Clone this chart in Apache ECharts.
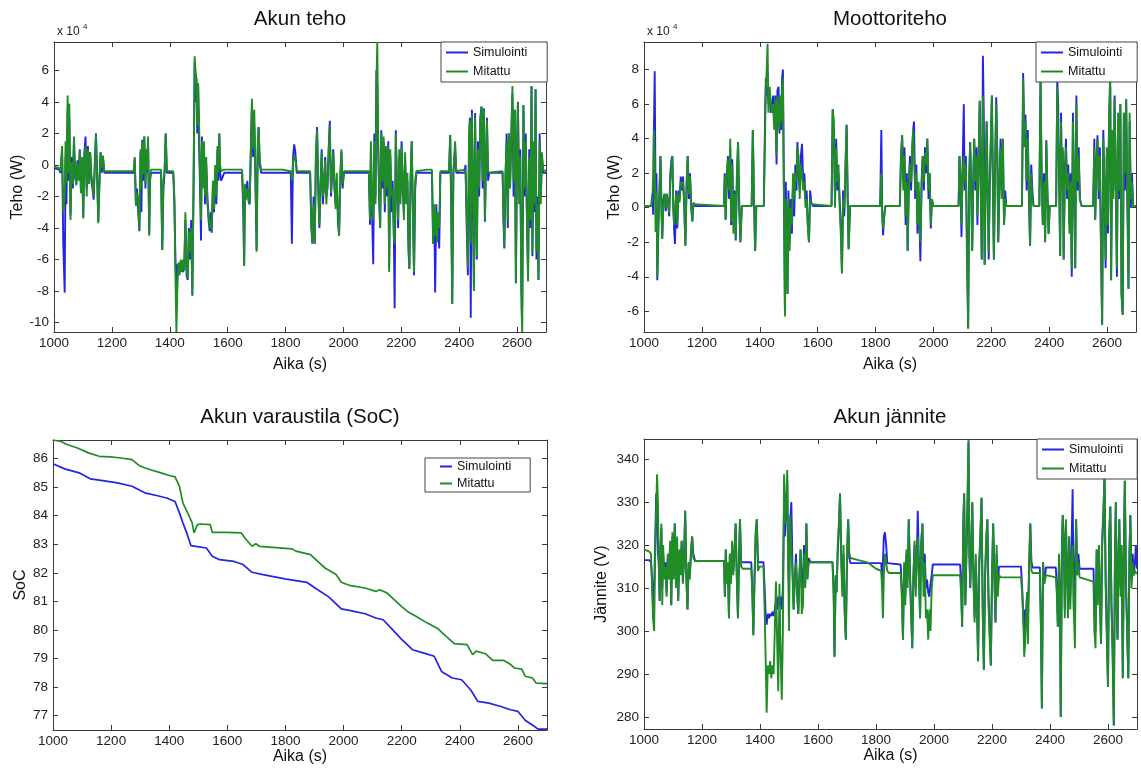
<!DOCTYPE html>
<html>
<head>
<meta charset="utf-8">
<title>Akku ja moottori</title>
<script src="https://cdn.jsdelivr.net/npm/echarts@6/dist/echarts.min.js"></script>
<style>
  html, body { margin: 0; padding: 0; background: #fff; }
  #chart { width: 1141px; height: 770px; }
</style>
</head>
<body>
<div id="chart"></div>
<script>
// akselit
const xTicks = [1000, 1200, 1400, 1600, 1800, 2000, 2200, 2400, 2600];
const akkuTicks = [-10, -8, -6, -4, -2, 0, 2, 4, 6];
const moottoriTicks = [-6, -4, -2, 0, 2, 4, 6, 8];
const socTicks = [77, 78, 79, 80, 81, 82, 83, 84, 85, 86];
const janniteTicks = [280, 290, 300, 310, 320, 330, 340];

// Akun teho (x 10^4 W)
const akkuAika = [
  1000,1018,1022,1028,1032,1037,1040,1043,1047,1050,1053,1057,1061,1065,1069,1073,1077,1081,1085,1089,
  1093,1097,1101,1105,1109,1113,1117,1121,1125,1129,1133,1137,1141,1145,1149,1153,1157,1161,1165,1169,
  1174,1275,1279,1283,1287,1291,1295,1299,1302,1305,1308,1312,1316,1319,1322,1325,1329,1332,1335,1370,
  1374,1378,1382,1386,1390,1412,1416,1420,1423,1426,1430,1434,1438,1442,1446,1450,1454,1458,1462,1466,
  1470,1474,1478,1482,1486,1489,1492,1495,1498,1501,1504,1508,1511,1514,1518,1522,1526,1530,1534,1538,
  1542,1545,1549,1553,1557,1561,1565,1568,1571,1574,1577,1582,1588,1650,1654,1657,1660,1664,1668,1672,
  1676,1680,1684,1688,1692,1696,1700,1704,1707,1711,1716,1790,1818,1822,1826,1830,1834,1839,1885,1889,
  1893,1897,1901,1905,1909,1913,1917,1921,1925,1929,1933,1937,1941,1945,1949,1953,1957,1961,1965,1969,
  1973,1977,1981,1985,1989,1993,1997,2002,2088,2092,2095,2099,2103,2107,2111,2114,2117,2120,2124,2127,
  2131,2135,2139,2143,2147,2151,2155,2158,2162,2166,2170,2174,2177,2181,2185,2189,2193,2197,2201,2205,
  2209,2213,2217,2221,2225,2228,2232,2236,2240,2244,2248,2252,2290,2306,2310,2314,2317,2321,2324,2328,
  2331,2335,2365,2369,2373,2376,2380,2386,2390,2418,2422,2426,2430,2434,2437,2440,2444,2448,2451,2455,
  2458,2461,2465,2469,2473,2477,2481,2485,2489,2493,2496,2500,2504,2550,2553,2556,2560,2564,2568,2572,
  2576,2580,2584,2588,2592,2596,2600,2603,2607,2611,2615,2618,2622,2626,2630,2634,2638,2642,2646,2650,
  2653,2657,2660,2664,2667,2671,2674,2678,2682,2686,2690,2700
];
const akkuSim = [
  -0.2,-0.3,-0.5,0.8,-5.0,-8.1,0.5,-2.5,3.5,-1.0,3.0,-3.2,0.5,-1.5,1.5,-0.8,-1.2,0.3,-0.8,1.0,
  -1.5,0.3,-3.3,0.8,1.8,-1.5,1.2,-0.8,0.8,-1.0,-1.5,-2.2,0.2,2.0,-0.5,-3.6,-1.0,0.8,-0.5,0.5,
  -0.5,-0.5,0.4,-2.5,-1.5,-3.0,-4.2,0.8,-3.0,1.6,-1.0,1.8,-1.5,0.8,-0.5,1.6,-4.4,-1.0,-0.5,-0.5,
  -5.4,-1.5,-0.5,2.0,-0.5,-0.5,-2.5,-6.5,-8.0,-6.3,-6.8,-6.2,-6.7,-6.3,-6.8,-6.5,-3.5,-7.0,-7.3,-4.0,
  -6.0,-3.5,-8.3,-2.0,6.5,4.0,5.5,2.0,5.0,1.5,-1.0,-4.8,1.8,-1.0,1.0,-2.5,0.0,-2.0,-3.5,-4.2,
  -3.0,-4.3,-1.5,-3.0,-0.5,-2.5,1.0,-1.0,2.0,-0.5,-1.0,-0.8,-0.5,-0.5,-3.0,-6.4,-1.5,-2.0,-1.0,-2.3,
  -2.5,1.0,4.0,0.5,2.5,-1.0,-5.4,1.0,2.4,0.0,-0.5,-0.5,-0.5,-5.0,0.5,1.3,0.8,-0.5,-0.5,-4.0,
  -5.0,-2.0,-5.0,0.5,2.4,-1.5,-4.0,-1.0,1.0,-2.5,-1.2,0.5,-2.0,-1.5,1.0,2.8,-2.0,-0.5,1.0,-1.5,
  -2.5,-1.0,-3.5,-4.5,-1.0,0.8,-1.5,-0.5,-0.5,-3.8,1.0,-3.0,-6.3,2.0,-2.0,6.0,5.0,1.0,-2.5,-4.0,
  2.2,-1.5,1.5,-3.0,0.5,-2.0,1.5,-6.5,0.5,-3.0,-1.0,-4.0,-9.1,2.2,-1.0,-4.0,0.5,-2.0,1.5,-1.5,
  -3.0,0.5,-2.0,-1.0,-5.5,-6.6,-1.0,1.5,-3.0,-7.0,-1.5,-0.5,-0.5,-0.5,-5.0,-3.0,-8.1,-2.5,-4.9,-3.5,
  -5.3,-0.5,-0.5,1.9,-3.0,-8.8,-0.5,1.0,-0.5,-0.5,0.0,-4.0,-7.0,1.0,3.0,-9.7,3.5,-2.5,-8.0,3.3,
  -2.0,-6.0,1.5,-2.0,3.0,3.7,-1.5,3.6,-3.6,0.5,3.0,-1.0,-0.5,-0.5,-3.5,-5.3,-1.0,2.0,-4.0,2.0,
  -1.0,1.5,4.5,-2.0,3.5,-7.5,1.0,4.0,-2.0,1.0,-8.0,-9.0,3.8,-2.0,2.0,-3.0,-7.0,1.0,-4.0,5.0,
  -5.8,1.0,-3.0,4.8,-6.0,-2.0,-7.3,2.0,-2.0,0.5,-0.5,-0.5
];
const akkuMit = [
  -0.1,-0.2,-0.4,1.2,-3.0,-2.0,1.5,-1.2,4.4,-0.5,3.9,-3.5,0.2,-1.2,1.8,-0.5,-1.3,0.1,-1.0,0.9,
  -1.8,0.5,-3.4,0.6,1.2,-2.0,1.0,-1.2,0.8,-0.6,-1.2,-2.0,-0.2,1.9,-0.8,-3.7,-1.2,0.8,-0.2,0.6,
  -0.4,-0.4,0.5,-2.6,-1.8,-2.2,-4.1,1.0,-1.5,1.5,-0.6,1.8,-1.2,1.0,-0.3,1.8,-4.5,-0.8,-0.3,-0.3,
  -5.4,-1.0,-0.4,2.0,-0.4,-0.4,-2.0,-7.5,-10.6,-8.0,-6.2,-7.0,-6.0,-6.8,-6.0,-6.7,-3.0,-6.5,-7.2,-4.2,
  -5.5,-4.0,-8.2,-1.5,6.9,6.0,5.5,2.5,5.2,3.0,0.0,-3.5,1.5,-1.5,1.5,-2.0,0.5,-2.5,-3.0,-4.0,
  -3.5,-4.2,-1.0,-2.8,0.0,-2.0,1.2,-0.5,2.0,0.0,-0.4,-0.3,-0.3,-0.3,-2.5,-6.4,-1.2,-2.2,-1.5,-2.0,
  -2.5,0.5,4.2,1.0,3.5,-0.5,-5.5,1.5,2.4,0.2,-0.3,-0.3,-0.4,-1.0,0.2,0.6,0.3,-0.4,-0.4,-3.5,
  -5.0,-2.5,-5.0,0.8,2.2,-1.2,-3.8,-1.5,0.8,-2.0,-1.5,0.3,-2.5,-1.0,0.8,2.5,-1.8,-0.8,0.8,-1.0,
  -2.8,-0.5,-3.0,-4.5,-0.8,1.0,-1.2,-0.4,-0.4,-3.5,1.5,-2.5,-3.5,1.5,-2.5,5.0,7.8,2.0,-2.0,-4.0,
  2.0,-1.0,1.8,-2.5,1.2,-1.5,1.2,-6.8,1.0,-2.0,-1.5,-4.5,-5.0,2.0,-1.5,-3.5,1.0,-2.5,1.2,-1.0,
  -3.5,0.8,-2.5,-0.5,-5.0,-6.6,-0.8,1.5,-2.5,-6.8,-1.0,-0.4,-0.3,-0.3,-5.0,-2.5,-4.5,-3.0,-4.9,-3.0,
  -4.0,-0.4,-0.4,1.9,-4.0,-8.8,-0.4,1.5,-0.4,-0.3,-0.5,-3.0,-6.5,2.0,2.8,-5.0,3.2,-2.0,-8.0,3.0,
  -1.5,-5.8,1.0,-1.5,2.5,3.7,-1.0,3.5,-3.5,1.0,2.8,-0.5,-0.4,-0.4,-3.0,-5.2,-0.5,1.5,-3.5,2.0,
  -1.5,2.0,5.0,-1.0,3.5,-7.5,1.5,4.0,-2.5,0.5,-9.0,-10.6,3.8,-1.5,1.5,-3.5,-7.4,0.5,-3.5,5.0,
  -5.5,1.5,-2.5,4.8,-5.5,-2.5,-7.3,1.5,-2.5,0.8,-0.3,-0.4
];

// Moottoriteho (x 10^4 W)
const moottoriAika = [
  1000,1025,1029,1032,1034,1037,1040,1043,1046,1050,1054,1057,1060,1063,1067,1071,1075,1079,1083,1087,
  1091,1095,1098,1101,1104,1107,1111,1115,1119,1123,1127,1131,1135,1139,1143,1147,1151,1155,1159,1163,
  1167,1171,1176,1276,1279,1282,1286,1290,1294,1298,1301,1305,1309,1313,1317,1321,1325,1329,1333,1338,
  1372,1376,1380,1384,1388,1414,1418,1421,1424,1427,1430,1434,1438,1442,1446,1450,1454,1458,1461,1465,
  1468,1471,1474,1477,1480,1483,1487,1490,1493,1496,1499,1503,1507,1511,1515,1519,1523,1527,1530,1534,
  1538,1542,1546,1550,1554,1558,1562,1566,1570,1574,1578,1584,1648,1652,1656,1660,1664,1668,1672,1676,
  1680,1684,1688,1692,1696,1700,1704,1707,1712,1816,1820,1823,1826,1830,1834,1884,1888,1892,1896,1900,
  1904,1908,1911,1915,1919,1923,1927,1930,1933,1937,1941,1945,1949,1952,1955,1959,1963,1967,1971,1975,
  1979,1983,1987,1991,1995,1999,2087,2090,2094,2097,2101,2105,2108,2112,2116,2120,2124,2127,2131,2134,
  2138,2141,2145,2149,2152,2156,2160,2163,2167,2171,2174,2177,2181,2184,2188,2191,2195,2199,2202,2206,
  2209,2213,2217,2221,2224,2228,2232,2236,2240,2244,2248,2252,2306,2310,2314,2318,2322,2326,2330,2334,
  2338,2342,2346,2366,2370,2374,2378,2382,2386,2390,2394,2398,2402,2424,2428,2431,2434,2438,2441,2444,
  2447,2450,2454,2458,2462,2466,2470,2474,2478,2482,2486,2490,2494,2498,2502,2506,2512,2552,2556,2559,
  2563,2567,2571,2575,2579,2583,2587,2591,2595,2599,2603,2607,2611,2614,2618,2622,2626,2630,2634,2638,
  2642,2646,2650,2654,2658,2662,2666,2670,2674,2678,2682,2686,2690,2700
];
const moottoriSim = [
  0.1,0.1,0.8,-0.4,4.0,7.9,0.5,2.0,-4.2,-1.0,1.5,3.0,0.5,-1.8,0.5,0.8,-0.2,0.8,0.3,-0.5,
  2.0,2.8,3.0,0.5,-1.2,-2.1,1.0,-1.2,1.0,0.5,1.8,1.0,1.8,0.0,-2.2,1.0,3.0,0.5,2.0,0.0,
  -0.8,0.3,0.1,0.1,2.0,-0.7,1.5,3.0,0.5,3.5,-1.0,2.8,-1.0,1.0,-1.9,1.5,3.8,0.0,-2.0,0.1,
  0.1,4.5,0.5,-2.5,0.1,0.1,5.0,7.5,6.5,7.0,6.0,6.5,5.5,6.0,6.5,5.0,6.5,2.5,6.8,7.0,
  4.3,6.0,4.5,7.5,8.0,2.0,-6.0,1.5,-3.0,-5.0,1.0,-2.0,0.5,-1.5,1.5,-0.5,2.5,1.0,3.8,2.0,
  1.0,3.0,3.7,1.5,2.0,0.5,1.0,-1.0,-2.0,1.0,0.3,0.1,0.1,5.7,4.5,0.5,4.0,1.0,2.0,0.5,
  -1.0,-3.8,1.0,-0.5,2.0,4.8,0.5,-2.4,0.1,0.1,4.5,0.0,-1.6,-0.5,0.1,0.1,3.0,4.2,1.5,3.5,
  -1.0,2.0,-2.5,1.5,3.0,1.0,3.5,4.5,5.0,0.5,2.5,-1.5,1.0,-1.0,-3.1,1.5,3.0,1.0,3.5,2.0,
  4.0,0.5,2.0,-1.2,0.5,0.1,0.1,3.0,1.0,-1.7,2.5,6.0,1.0,3.0,-2.0,-7.0,2.0,3.8,1.0,-2.5,
  2.0,4.0,1.0,3.5,-1.0,2.5,6.2,2.0,-3.0,8.8,5.5,-3.3,2.0,5.0,0.5,-3.0,1.5,4.0,6.5,1.0,
  -3.0,2.0,6.4,3.0,-2.0,1.0,4.0,1.0,4.0,-1.0,1.0,0.1,0.1,7.8,4.0,5.4,1.0,4.5,0.5,-2.2,
  2.5,1.0,0.1,0.1,7.5,2.0,-1.0,2.0,-2.0,3.9,1.0,-1.5,0.1,0.1,7.5,6.0,2.0,-2.8,5.5,1.0,
  3.3,-3.0,2.0,4.0,0.5,2.5,-1.0,2.0,-4.0,5.5,1.0,-3.5,6.5,1.0,3.5,0.5,0.1,0.1,4.0,-0.7,
  2.5,4.2,0.5,3.5,-2.0,-6.8,4.5,1.0,-3.5,3.0,-1.5,5.0,7.0,-4.2,4.0,1.0,6.5,2.0,-4.0,5.0,
  0.5,6.0,-5.0,-6.2,5.5,1.0,6.3,0.5,-4.7,5.0,0.0,2.0,0.1,0.1
];
const moottoriMit = [
  0.1,0.1,0.5,2.0,4.5,3.0,-1.4,1.0,-4.0,-0.5,1.0,3.0,0.0,-1.8,0.2,0.8,0.0,0.8,0.2,-0.3,
  1.5,2.5,3.0,0.0,-1.0,-1.0,0.8,-1.0,0.8,0.3,1.5,1.3,1.5,0.3,-2.2,1.5,3.0,0.8,1.8,0.3,
  -0.8,0.2,0.1,0.1,1.8,-0.7,2.0,2.8,1.0,4.0,-0.8,2.5,-1.5,0.8,-1.8,2.0,3.8,0.5,-2.0,0.1,
  0.1,4.5,0.8,-2.5,0.1,0.1,4.0,7.0,8.0,9.5,5.5,7.0,6.0,5.5,6.0,4.5,6.3,3.0,6.5,6.5,
  4.5,6.5,5.0,7.0,7.5,1.5,-6.3,0.5,-3.5,-5.0,0.5,-2.5,0.0,-1.0,2.0,0.5,2.0,1.5,3.5,3.0,
  0.5,2.5,2.0,1.0,1.5,0.0,0.5,-1.0,-2.0,0.5,0.2,0.1,0.1,5.7,5.0,0.0,3.5,1.5,2.5,0.0,
  -1.5,-3.8,0.5,0.0,2.5,4.8,0.0,-2.4,0.1,0.1,2.0,-0.5,-1.2,-0.5,0.1,0.1,3.0,4.2,1.0,3.0,
  -0.5,1.5,-2.5,1.0,2.5,1.5,3.5,4.5,3.0,1.0,2.0,-1.0,1.5,-1.0,-2.0,1.0,3.0,1.5,3.2,2.5,
  4.0,1.0,2.0,-1.0,0.5,0.1,0.1,3.0,2.0,-1.0,2.0,3.0,1.5,2.5,-3.0,-7.0,1.5,3.8,0.5,-2.5,
  1.5,4.0,1.5,3.0,-0.5,3.0,6.2,1.5,-3.0,6.5,6.5,-3.3,2.5,5.0,0.0,-2.5,2.0,4.5,6.5,0.5,
  -3.0,2.5,6.0,2.5,-2.0,1.5,3.5,0.5,4.0,-1.0,0.5,0.1,0.1,7.5,3.5,5.0,1.5,4.0,1.0,-2.2,
  2.0,0.5,0.1,0.1,7.5,1.5,-1.0,1.5,-2.0,3.9,0.5,-1.5,0.1,0.1,7.0,4.0,2.5,-2.8,5.0,1.0,
  3.5,-3.0,1.5,3.5,1.0,2.0,-1.5,1.5,-3.5,5.0,1.5,-3.5,6.0,1.5,3.0,0.5,0.1,0.1,3.5,-0.7,
  2.0,4.0,1.0,3.0,-2.5,-6.8,4.0,1.5,-3.0,3.5,-1.0,5.5,7.8,-4.2,4.5,0.5,6.3,1.5,-3.5,5.5,
  1.0,6.0,-5.0,-6.2,5.5,2.0,6.3,1.0,-4.7,5.5,0.5,1.5,0.1,0.1
];

// Akun varaustila (SoC)
const socAikaSim = [
  1000,1040,1090,1128,1165,1222,1272,1316,1360,1391,1420,1435,1447,1460,1475,1503,1528,1548,1573,1623,
  1654,1685,1723,1798,1873,1911,1949,1992,2024,2074,2111,2136,2174,2199,2237,2274,2312,2337,2374,2406,
  2437,2462,2500,2538,2575,2600,2625,2656,2669,2700
];
const socSim = [
  85.82,85.64,85.5,85.29,85.24,85.15,85.03,84.8,84.7,84.62,84.5,84.1,83.75,83.4,82.95,82.91,82.87,82.58,82.46,82.4,
  82.29,82.02,81.94,81.79,81.67,81.41,81.16,80.74,80.68,80.57,80.42,80.36,79.95,79.68,79.31,79.2,79.08,78.55,78.32,78.26,
  77.91,77.5,77.44,77.33,77.21,77.15,76.84,76.63,76.53,76.53
];
const socAikaMit = [
  1000,1028,1046,1084,1122,1159,1197,1234,1272,1297,1335,1372,1403,1420,1435,1447,1466,1479,1485,1497,
  1507,1541,1548,1598,1648,1660,1685,1698,1710,1823,1836,1886,1911,1936,1974,1992,2024,2074,2111,2124,
  2149,2174,2199,2224,2249,2287,2325,2350,2381,2425,2444,2456,2488,2513,2550,2575,2588,2613,2625,2650,
  2663,2700
];
const socMit = [
  86.65,86.6,86.5,86.37,86.2,86.08,86.06,86.02,85.96,85.75,85.61,85.5,85.4,85.36,85.03,84.45,84.04,83.75,83.4,83.69,
  83.71,83.69,83.42,83.42,83.4,83.22,82.93,83.02,82.93,82.84,82.76,82.64,82.4,82.17,81.94,81.67,81.55,81.47,81.35,81.41,
  81.3,81.06,80.83,80.62,80.48,80.25,80.04,79.8,79.52,79.49,79.14,79.26,79.17,78.94,78.94,78.79,78.67,78.63,78.38,78.32,
  78.14,78.12
];

// Akun jannite (V)
const janniteAika = [
  1000,1018,1024,1028,1031,1035,1039,1042,1045,1048,1051,1054,1057,1060,1063,1066,1070,1074,1078,1082,
  1086,1090,1094,1098,1102,1106,1110,1114,1118,1122,1126,1130,1134,1138,1142,1146,1150,1154,1158,1162,
  1166,1170,1176,1276,1279,1282,1285,1289,1293,1296,1300,1304,1308,1312,1316,1320,1324,1328,1331,1335,
  1340,1370,1374,1377,1381,1385,1389,1393,1398,1412,1416,1420,1423,1427,1431,1435,1439,1443,1447,1451,
  1455,1459,1463,1467,1471,1475,1479,1483,1486,1490,1494,1497,1500,1504,1508,1512,1516,1520,1524,1528,
  1532,1536,1540,1544,1548,1552,1556,1560,1564,1568,1574,1650,1654,1657,1661,1664,1668,1672,1676,1680,
  1684,1688,1692,1696,1700,1704,1708,1712,1740,1770,1800,1818,1821,1824,1827,1831,1835,1839,1845,1885,
  1889,1893,1897,1901,1905,1909,1913,1917,1921,1925,1929,1933,1937,1941,1944,1948,1952,1956,1960,1964,
  1968,1972,1976,1980,1984,1988,1992,1996,2000,2090,2094,2097,2101,2104,2108,2112,2116,2119,2122,2125,
  2129,2132,2136,2140,2144,2148,2152,2156,2160,2164,2168,2172,2176,2180,2184,2188,2192,2196,2200,2204,
  2208,2212,2216,2220,2224,2230,2300,2304,2308,2311,2314,2317,2321,2324,2328,2332,2336,2340,2365,2369,
  2372,2376,2380,2386,2420,2424,2427,2431,2434,2437,2441,2444,2448,2451,2455,2458,2462,2466,2470,2474,
  2478,2482,2486,2490,2494,2498,2502,2550,2553,2557,2561,2565,2569,2573,2576,2580,2584,2588,2592,2596,
  2600,2604,2608,2612,2616,2620,2624,2627,2630,2633,2636,2639,2643,2647,2651,2655,2658,2662,2666,2670,
  2674,2677,2681,2685,2689,2693,2696,2700
];
const janniteSim = [
  316.5,316.5,316,312,306,310,322,332,328,318,316,307,318,324,310,318,313,316,309,317,
  314,320,306,322,313,325,312,320,307,318,314,321,312,317,328,313,305,316,313,318,
  322,318,316.3,316.3,308,319,312,315,303,318,312,320,314,318,325,313,303,318,326,316,
  316,316,308,299,312,322,326,316,316,316,310,303,301.5,304,303,304,303.5,304.5,303.5,305,
  307,305,308,306,308,305,310,330,322,328,335,318,310,325,330,315,305,312,318,310,
  304,312,319,310,312,320,311,325,313,317,316,316,310,294,313,309,318,324,332,318,
  310,318,305,298,316,326,317,315.8,315.8,315.8,315.8,315.8,312,316,322,323,320,315.8,315.5,315.5,
  310,298,315,308,318,312,326,314,305,296,313,320,310,318,328,316,303,320,325,312,
  318,310,312,309,308,311,313,315.5,315.5,315.5,310,301,326,332,306,318,330,344,318,310,
  320,330,313,303,316,308,293,315,322,331,305,291,312,320,326,308,300,292,312,325,
  314,302,318,310,315,315,315,310,303,299,305,303,309,304,315,325,316,314.8,314.8,300,
  282,316,311,314.8,314.8,310,301,316,309,280,320,327,320,305,325,315,310,322,308,318,
  333,305,312,326,313,318,314.5,314.5,305,300,319,310,318,306,297,320,326,336,312,300,
  287,322,329,306,296,278,318,330,306,298,318,326,310,318,289,320,335,312,300,289,
  318,327,312,318,313,316,320,314.5
];
const janniteMit = [
  319,318.5,318,310,303,300,320,328,336.5,330,315,307,320,325,306,320,312,315,308,318,
  312,321,306,323,312,325,310,322,307,319,313,321,311,316,328,312,305,316,312,319,
  322,317,316.3,316.3,308,319,311,316,303,318,311,321,313,318,325,312,303,319,326,315,
  314.5,314.5,308,299,312,323,326,314,315,315,305,292,281,292,290,293,289,292,290,300,
  311.5,298,286,311,295,284,300,336.5,325,330,337.5,315,300,327,327,313,305,313,316,308,
  304,314,319,304,306,318,310,325,312,316,316,316,308,294,313,309,320,325,332,316,
  308,320,304,298,318,326,318,317,316.5,316,314.5,314,310,303,313,318,318,314,313.5,313.5,
  308,298,316,306,319,310,326,313,304,296,312,321,308,318,322,312,303,321,325,308,
  316,303,305,298,305,300,310,313,313,313,308,301,324,332,306,320,333,344.5,318,310,
  322,330,312,302,318,306,293,316,323,331,304,291,313,322,326,306,298,292,313,325,
  312,302,320,308,313,312.5,312.5,309,303,294,297,302,309,297,315,325,314,313.5,313.5,300,
  282,316,311,313,312.5,308,301,318,308,280,318,327,320,303,326,313,303,322,305,316,
  320,305,296,326,313,316,312.5,311.5,300,296,319,306,320,304,297,322,328,336,310,298,
  287,322,329,305,294,278,318,330,306,298,318,326,308,320,289,322,335,310,300,289,
  318,327,310,316,313,314,313.5,313.5
];

const BLUE = '#2424e2';
const GREEN = '#1f8c26';
const FONT = '"Liberation Sans", Arial, Helvetica, sans-serif';
const AXIS = '#3a3a3a';

function pairs(t, v) {
  return t.map((x, i) => [x, v[i]]);
}

const panels = [
  {
    title: 'Akun teho', titleX: 300, titleY: 9,
    grid: { left: 54, top: 42, width: 492, height: 290 },
    yMin: -10.6, yMax: 7.8, yTicks: akkuTicks, yName: 'Teho (W)', yGap: 23, xGap: 25,
    legend: { left: 441, top: 42, itemWidth: 22, itemGap: 6, padding: [4, 20, 4, 5] },
    sim: pairs(akkuAika, akkuSim), mit: pairs(akkuAika, akkuMit), width: 1.9
  },
  {
    title: 'Moottoriteho', titleX: 890, titleY: 9,
    grid: { left: 644, top: 42, width: 492, height: 290 },
    yMin: -7.2, yMax: 9.6, yTicks: moottoriTicks, yName: 'Teho (W)', yGap: 21, xGap: 25,
    legend: { left: 1036, top: 42, itemWidth: 22, itemGap: 6, padding: [4, 15, 4, 5] },
    sim: pairs(moottoriAika, moottoriSim), mit: pairs(moottoriAika, moottoriMit), width: 1.9
  },
  {
    title: 'Akun varaustila (SoC)', titleX: 300, titleY: 407,
    grid: { left: 53, top: 440, width: 494, height: 290 },
    yMin: 76.5, yMax: 86.65, yTicks: socTicks, yName: 'SoC', yGap: 24, xGap: 14,
    legend: { left: 425, top: 458, itemWidth: 12, itemGap: 4, padding: [2, 19, 2, 15] },
    sim: pairs(socAikaSim, socSim), mit: pairs(socAikaMit, socMit), width: 1.7
  },
  {
    title: 'Akun jännite', titleX: 890, titleY: 407,
    grid: { left: 644, top: 439, width: 493, height: 290 },
    yMin: 277.2, yMax: 344.7, yTicks: janniteTicks, yName: 'Jännite (V)', yGap: 34, xGap: 14,
    legend: { left: 1037, top: 439, itemWidth: 22, itemGap: 6, padding: [4, 14, 4, 5] },
    sim: pairs(janniteAika, janniteSim), mit: pairs(janniteAika, janniteMit), width: 1.9
  }
];

const option = {
  animation: false,
  backgroundColor: '#fff',
  textStyle: { fontFamily: FONT },
  title: [], grid: [], xAxis: [], yAxis: [], legend: [], series: [],
  graphic: []
};

const plain = v => String(v);

panels.forEach((p, i) => {
  option.title.push({
    text: p.title, left: p.titleX, top: p.titleY, textAlign: 'center', padding: 0,
    textStyle: { fontSize: 20.5, fontWeight: 'normal', color: '#111', fontFamily: FONT }
  });
  option.grid.push(Object.assign({ containLabel: false }, p.grid));

  const lineStyle = { color: AXIS, width: 1 };
  option.xAxis.push({
    gridIndex: i, type: 'value', min: 1000, max: 2700, position: 'bottom',
    axisLine: { show: true, onZero: false, lineStyle },
    axisTick: { show: true, inside: true, length: 5, customValues: xTicks, lineStyle },
    axisLabel: { customValues: xTicks, formatter: plain, margin: 4, fontSize: 13.5, color: '#222', fontFamily: FONT },
    splitLine: { show: false },
    name: 'Aika (s)', nameLocation: 'middle', nameGap: p.xGap,
    nameTextStyle: { fontSize: 16, color: '#111', fontFamily: FONT }
  });
  option.xAxis.push({
    gridIndex: i, type: 'value', min: 1000, max: 2700, position: 'top',
    axisLine: { show: true, onZero: false, lineStyle },
    axisTick: { show: true, inside: true, length: 5, customValues: xTicks, lineStyle },
    axisLabel: { show: false }, splitLine: { show: false }
  });
  option.yAxis.push({
    gridIndex: i, type: 'value', min: p.yMin, max: p.yMax, position: 'left',
    axisLine: { show: true, onZero: false, lineStyle },
    axisTick: { show: true, inside: true, length: 5, customValues: p.yTicks, lineStyle },
    axisLabel: { customValues: p.yTicks, formatter: plain, margin: 5, fontSize: 13.5, color: '#222', fontFamily: FONT },
    splitLine: { show: false },
    name: p.yName, nameLocation: 'middle', nameGap: p.yGap,
    nameTextStyle: { fontSize: 16, color: '#111', fontFamily: FONT }
  });
  option.yAxis.push({
    gridIndex: i, type: 'value', min: p.yMin, max: p.yMax, position: 'right',
    axisLine: { show: true, onZero: false, lineStyle },
    axisTick: { show: true, inside: true, length: 5, customValues: p.yTicks, lineStyle },
    axisLabel: { show: false }, splitLine: { show: false }
  });

  option.legend.push({
    orient: 'vertical', left: p.legend.left, top: p.legend.top,
    itemWidth: p.legend.itemWidth, itemHeight: 2, icon: 'rect',
    itemGap: p.legend.itemGap, padding: p.legend.padding,
    borderColor: '#444', borderWidth: 1, backgroundColor: '#fff',
    textStyle: { fontSize: 12.5, color: '#111', fontFamily: FONT },
    data: ['Simulointi', 'Mitattu']
  });

  option.series.push({
    name: 'Simulointi', type: 'line', xAxisIndex: 2 * i, yAxisIndex: 2 * i,
    data: p.sim, showSymbol: false, symbol: 'none',
    lineStyle: { color: BLUE, width: p.width }, itemStyle: { color: BLUE }
  });
  option.series.push({
    name: 'Mitattu', type: 'line', xAxisIndex: 2 * i, yAxisIndex: 2 * i,
    data: p.mit, showSymbol: false, symbol: 'none',
    lineStyle: { color: GREEN, width: p.width }, itemStyle: { color: GREEN }
  });
});

// x 10^4 merkinnat tehokuviin
[57, 647].forEach(x => {
  option.graphic.push({ type: 'text', left: x, top: 26,
    style: { text: 'x 10', font: '12px ' + FONT, fill: '#222' } });
  option.graphic.push({ type: 'text', left: x + 26, top: 23,
    style: { text: '4', font: '8px ' + FONT, fill: '#222' } });
});

const chart = echarts.init(document.getElementById('chart'));
chart.setOption(option);
</script>
</body>
</html>
